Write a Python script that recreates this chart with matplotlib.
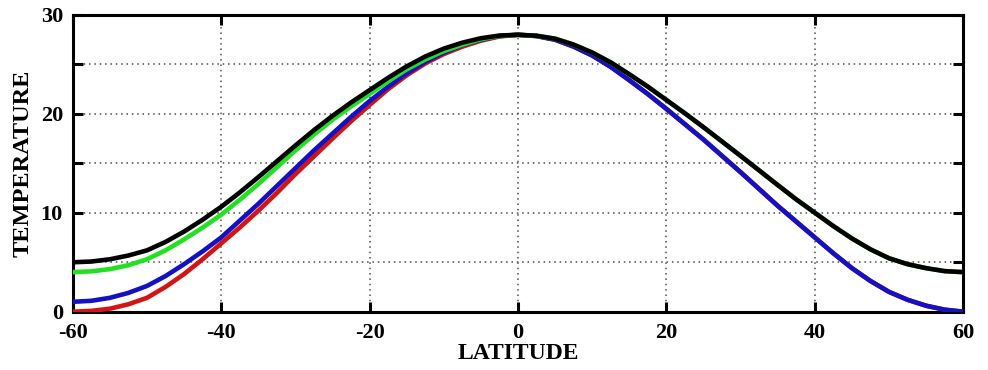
import matplotlib
matplotlib.use("Agg")
from matplotlib import pyplot as plt

plt.rcParams['font.family'] = ['Liberation Serif', 'DejaVu Serif']
plt.rcParams['font.weight'] = 'bold'
plt.rcParams['axes.unicode_minus'] = False

latitude = [-60, -57.5, -55, -52.5, -50, -47.5, -45, -42.5, -40, -37.5, -35, -32.5,
            -30, -27.5, -25, -22.5, -20, -17.5, -15, -12.5, -10, -7.5, -5, -2.5,
            0, 2.5, 5, 7.5, 10, 12.5, 15, 17.5, 20, 22.5, 25, 27.5,
            30, 32.5, 35, 37.5, 40, 42.5, 45, 47.5, 50, 52.5, 55, 57.5, 60]

# southern half of each curve, then the northern half
temp_black = [5.0, 5.07, 5.3, 5.68, 6.2, 7.05, 8.1, 9.3, 10.6, 12.05, 13.6, 15.2,
              16.8, 18.35, 19.8, 21.15, 22.4, 23.65, 24.8, 25.8, 26.6, 27.2, 27.65, 27.92,
              28.0, 27.9, 27.6, 27.0, 26.2, 25.2, 24.0, 22.75, 21.4, 20.05, 18.65, 17.2,
              15.75, 14.28, 12.8, 11.35, 10.0, 8.65, 7.4, 6.3, 5.4, 4.8, 4.4, 4.1, 4.0]
temp_green = [4.0, 4.08, 4.3, 4.7, 5.3, 6.2, 7.3, 8.5, 9.8, 11.3, 12.9, 14.6,
              16.3, 17.9, 19.4, 20.75, 22.0, 23.3, 24.5, 25.5, 26.35, 27.0, 27.55, 27.88,
              28.0, 27.9, 27.6, 27.0, 26.2, 25.2, 24.0, 22.75, 21.4, 20.05, 18.65, 17.2,
              15.75, 14.28, 12.8, 11.35, 10.0, 8.65, 7.4, 6.3, 5.4, 4.8, 4.4, 4.1, 4.0]
temp_blue = [1.0, 1.1, 1.4, 1.9, 2.6, 3.6, 4.8, 6.1, 7.5, 9.2, 10.9, 12.7,
             14.5, 16.3, 18.0, 19.7, 21.3, 22.75, 24.1, 25.25, 26.2, 26.95, 27.5, 27.87,
             28.0, 27.87, 27.5, 26.8, 25.9, 24.75, 23.4, 22.0, 20.5, 18.95, 17.4, 15.75,
             14.1, 12.4, 10.7, 9.1, 7.5, 5.9, 4.4, 3.1, 2.0, 1.2, 0.6, 0.2, 0.0]
temp_red = [0.0, 0.08, 0.3, 0.75, 1.4, 2.5, 3.8, 5.3, 6.9, 8.5, 10.2, 12.0,
            13.9, 15.7, 17.5, 19.25, 20.9, 22.5, 23.9, 25.1, 26.05, 26.8, 27.4, 27.83,
            28.0, 27.87, 27.5, 26.8, 25.9, 24.75, 23.4, 22.0, 20.5, 18.95, 17.4, 15.75,
            14.1, 12.4, 10.7, 9.1, 7.5, 5.9, 4.4, 3.1, 2.0, 1.2, 0.6, 0.2, 0.0]

xticks = [-60, -40, -20, 0, 20, 40, 60]
yticks = [0, 5, 10, 15, 20, 25, 30]
ytick_labels = ['0', '', '10', '', '20', '', '30']

fig = plt.figure(figsize=(9.88, 3.70), dpi=100)
ax = fig.add_axes([0.0736, 0.1576, 0.9014, 0.8019])

line_kw = dict(lw=3.3, solid_joinstyle='round', solid_capstyle='butt')
ax.plot(latitude, temp_red, color='#d41414', zorder=3, **line_kw)
ax.plot(latitude, temp_blue, color='#1212c4', zorder=4, **line_kw)
ax.plot(latitude, temp_green, color='#22e022', zorder=5, **line_kw)
ax.plot(latitude, temp_black, color='black', zorder=6, **line_kw)

ax.set_xlim(-60, 60)
ax.set_ylim(0, 30)
ax.set_xticks(xticks)
ax.set_xticklabels([str(t) for t in xticks])
ax.set_yticks(yticks)
ax.set_yticklabels(ytick_labels)

ax.grid(True, linestyle=(0, (1, 2.5)), color='0.3', lw=1.1, zorder=1)
ax.tick_params(direction='in', length=7, width=2.2, top=True, right=True,
               labelsize=16)
ax.tick_params(axis='x', pad=8)
ax.tick_params(axis='y', pad=7)
for s in ax.spines.values():
    s.set_linewidth(2.2)

ax.set_xlabel('LATITUDE', fontsize=17, fontweight='bold', labelpad=0)
ax.set_ylabel('TEMPERATURE', fontsize=17.5, fontweight='bold', labelpad=5)

fig.savefig('out.png', dpi=100)
